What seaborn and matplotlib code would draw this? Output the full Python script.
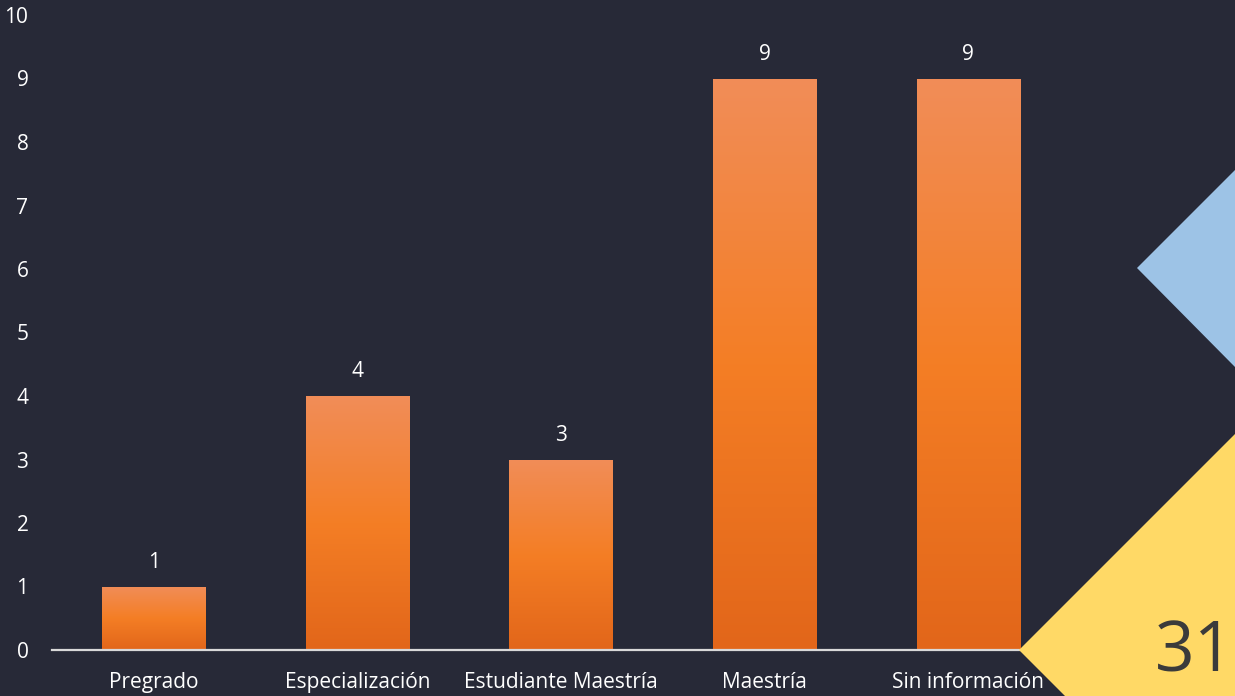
import matplotlib
matplotlib.use("Agg")
import matplotlib.pyplot as plt
import numpy as np
import pandas as pd
import seaborn as sns
from matplotlib.colors import LinearSegmentedColormap
from matplotlib.patches import Polygon

categories = ["Pregrado", "Especialización", "Estudiante Maestría", "Maestría", "Sin información"]
values = [1, 4, 3, 9, 9]
yticks = list(range(0, 11))
page_number = "31"

BG = "#272937"
TEXT = "#FFFFFF"

sns.set_theme(style="white")
plt.rcParams["font.family"] = ["Open Sans", "DejaVu Sans"]

W, H = 1235, 696
fig = plt.figure(figsize=(W / 100, H / 100), dpi=100, facecolor=BG)

# decorative triangles (figure pixel coords)
blue = Polygon([[1137 / W, 1 - 268 / H], [1.0, 1 - 170 / H], [1.0, 1 - 367 / H]],
               closed=True, transform=fig.transFigure, facecolor="#9DC3E6", edgecolor="none", zorder=0)
yellow = Polygon([[1019 / W, 1 - 650 / H], [1.0, 1 - 434 / H], [1.0, 0.0], [1065 / W, 0.0]],
                 closed=True, transform=fig.transFigure, facecolor="#FFD966", edgecolor="none", zorder=0)
fig.patches.extend([blue, yellow])

ax = fig.add_axes([52 / W, 1 - 650 / H, (1070 - 52) / W, (650 - 15) / H])
ax.set_facecolor("none")

df = pd.DataFrame({"cat": categories, "val": values})
sns.barplot(data=df, x="cat", y="val", ax=ax, color="#F47B20", width=0.506,
            saturation=1, linewidth=0, edgecolor="none")

cmap = LinearSegmentedColormap.from_list("og", ["#E2661A", "#F47E25", "#F18D58"])
grad = np.linspace(0, 1, 256).reshape(-1, 1)
for p in ax.patches:
    x0, y0 = p.get_x(), p.get_y()
    w, h = p.get_width(), p.get_height()
    im = ax.imshow(grad, cmap=cmap, aspect="auto", origin="lower",
                   extent=[x0, x0 + w, y0, y0 + h], zorder=p.get_zorder() + 0.1)
    im.set_clip_path(p)

ax.set_xlim(-0.5, 4.5)
ax.set_ylim(0, 10)
ax.set_yticks(yticks)
ax.set_yticklabels([str(t) for t in yticks])
ax.set_xlabel("")
ax.set_ylabel("")

for c in ax.containers:
    ax.bar_label(c, labels=[str(v) for v in values], padding=10, color=TEXT, fontsize=15)

for s in ["top", "right", "left"]:
    ax.spines[s].set_visible(False)
ax.spines["bottom"].set_color("#D9D9D9")
ax.spines["bottom"].set_linewidth(1.6)
ax.spines["bottom"].set_zorder(5)

ax.tick_params(axis="y", length=0, pad=17, labelsize=15, labelcolor=TEXT)
ax.tick_params(axis="x", length=0, pad=16, labelsize=15, labelcolor=TEXT)
ax.grid(False)

fig.text(1234 / W, 1 - 654 / H, page_number, ha="right", va="center",
         fontsize=50, color="#3B3B3B")

fig.savefig("out.png", dpi=100, facecolor=BG)
